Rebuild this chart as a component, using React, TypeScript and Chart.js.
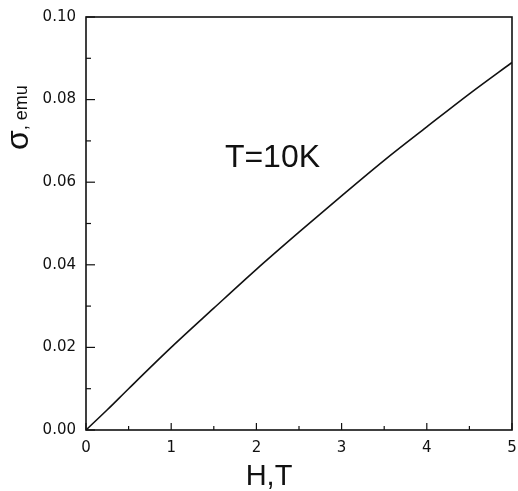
import React, { useEffect, useRef } from "react";
import { Chart, registerables } from "chart.js";

Chart.register(...registerables);

const H_VALUES = [0, 0.25, 0.5, 1, 1.5, 2, 2.5, 3, 3.5, 4, 4.5, 5];
const SIGMA_VALUES = [0, 0.0049, 0.01, 0.02, 0.0295, 0.0389, 0.0479, 0.0567, 0.0653, 0.0734, 0.0814, 0.089];
const X_TICKS = [0, 1, 2, 3, 4, 5];
const Y_TICKS = [0, 0.02, 0.04, 0.06, 0.08, 0.1];
const X_MINOR = [0.5, 1.5, 2.5, 3.5, 4.5];
const Y_MINOR = [0.01, 0.03, 0.05, 0.07, 0.09];
const ANNOTATION = { text: "T=10K", h: 1.63, sigma: 0.0637 };
const X_TITLE = "H,T";
const Y_TITLE_SYMBOL = "σ";
const Y_TITLE_REST = ", emu";

const W = 518;
const HGT = 491;

const decorPlugin = {
  id: "decor",
  afterDraw(chart: any) {
    const { ctx, chartArea, scales } = chart;
    const { left, right, top, bottom } = chartArea;
    const x = scales.x;
    const y = scales.y;
    ctx.save();
    ctx.strokeStyle = "#111";
    ctx.lineWidth = 1.6;
    ctx.strokeRect(left, top, right - left, bottom - top);
    ctx.lineWidth = 1.2;
    const line = (x1: number, y1: number, x2: number, y2: number) => {
      ctx.beginPath();
      ctx.moveTo(x1, y1);
      ctx.lineTo(x2, y2);
      ctx.stroke();
    };
    X_TICKS.forEach((v) => {
      const px = x.getPixelForValue(v);
      line(px, bottom, px, bottom - 7);
    });
    X_MINOR.forEach((v) => {
      const px = x.getPixelForValue(v);
      line(px, bottom, px, bottom - 4);
    });
    Y_TICKS.forEach((v) => {
      const py = y.getPixelForValue(v);
      line(left, py, left + 9, py);
    });
    Y_MINOR.forEach((v) => {
      const py = y.getPixelForValue(v);
      line(left, py, left + 5, py);
    });

    ctx.fillStyle = "#111";
    ctx.font = "32px 'Liberation Sans', Arial, sans-serif";
    ctx.textAlign = "left";
    ctx.textBaseline = "alphabetic";
    ctx.fillText(ANNOTATION.text, x.getPixelForValue(ANNOTATION.h), y.getPixelForValue(ANNOTATION.sigma));

    ctx.font = "29px 'Liberation Sans', Arial, sans-serif";
    ctx.textAlign = "center";
    ctx.fillText(X_TITLE, 269, 485);

    ctx.translate(28, 150);
    ctx.rotate(-Math.PI / 2);
    ctx.textAlign = "left";
    ctx.font = "32px 'Liberation Sans', Arial, sans-serif";
    ctx.fillText(Y_TITLE_SYMBOL, 0, 0);
    const w = ctx.measureText(Y_TITLE_SYMBOL).width;
    ctx.font = "18px 'Liberation Sans', Arial, sans-serif";
    ctx.fillText(Y_TITLE_REST, w, -1);
    ctx.restore();
  },
};

export default function App() {
  const ref = useRef<HTMLCanvasElement | null>(null);
  useEffect(() => {
    if (!ref.current) return;
    const chart = new Chart(ref.current, {
      type: "scatter",
      data: {
        datasets: [
          {
            data: H_VALUES.map((h, i) => ({ x: h, y: SIGMA_VALUES[i] })),
            showLine: true,
            borderColor: "#111",
            borderWidth: 1.6,
            pointRadius: 0,
            cubicInterpolationMode: "monotone",
            fill: false,
          },
        ],
      },
      options: {
        responsive: false,
        animation: false,
        layout: { padding: { left: 0, right: 6, top: 17, bottom: 0 } },
        plugins: { legend: { display: false }, tooltip: { enabled: false } },
        scales: {
          x: {
            type: "linear",
            min: 0,
            max: 5,
            afterFit: (s: any) => {
              s.height = 61;
              s.paddingLeft = 0;
              s.paddingRight = 0;
            },
            afterBuildTicks: (s: any) => {
              s.ticks = X_TICKS.map((v) => ({ value: v }));
            },
            grid: { display: false, drawTicks: false },
            border: { display: false },
            ticks: {
              padding: 9,
              color: "#111",
              font: { family: "'DejaVu Sans', sans-serif", size: 15 },
              maxRotation: 0,
              callback: (v: any) => String(v),
            },
          },
          y: {
            type: "linear",
            min: 0,
            max: 0.1,
            afterFit: (s: any) => {
              s.width = 86;
              s.paddingTop = 0;
              s.paddingBottom = 0;
            },
            afterBuildTicks: (s: any) => {
              s.ticks = Y_TICKS.map((v) => ({ value: v }));
            },
            grid: { display: false, drawTicks: false },
            border: { display: false },
            ticks: {
              padding: 10,
              color: "#111",
              font: { family: "'DejaVu Sans', sans-serif", size: 15 },
              callback: (v: any) => Number(v).toFixed(2),
            },
          },
        },
      },
      plugins: [decorPlugin],
    } as any);
    return () => chart.destroy();
  }, []);
  return (
    <div style={{ position: "fixed", left: 0, top: 0, width: W, height: HGT, background: "#fff" }}>
      <canvas ref={ref} width={W} height={HGT} style={{ width: W, height: HGT }} />
    </div>
  );
}
